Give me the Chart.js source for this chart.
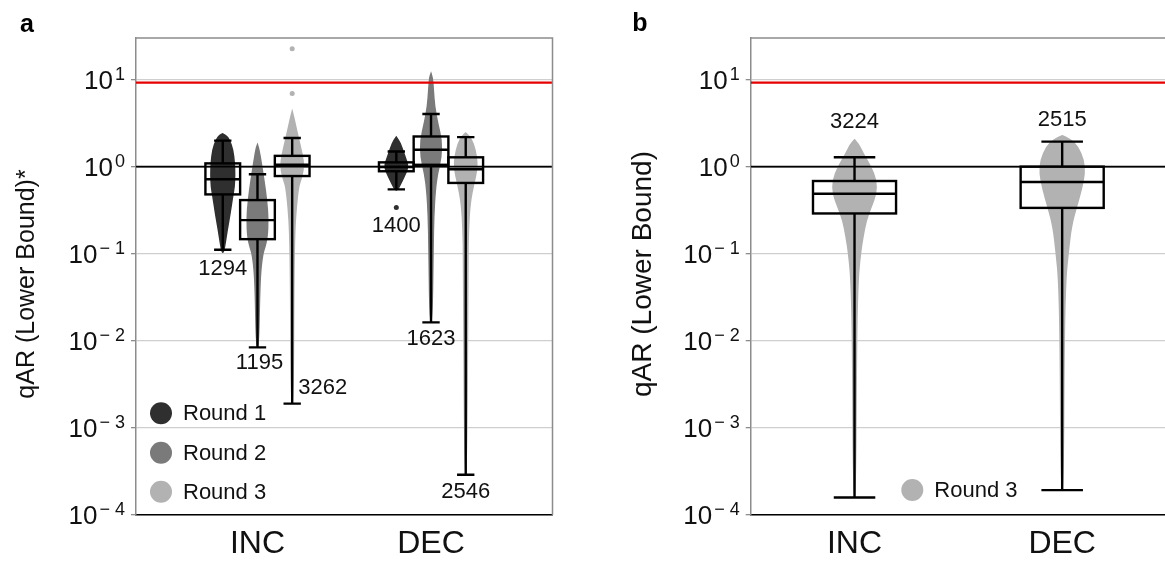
<!DOCTYPE html>
<html>
<head>
<meta charset="utf-8">
<script src="https://cdn.jsdelivr.net/npm/chart.js@4.4.1/dist/chart.umd.min.js"></script>
<style>
  html, body { margin: 0; padding: 0; background: #fff; overflow: hidden; }
  #wrap { position: relative; width: 1165px; height: 562px; }
  canvas { position: absolute; top: 0; }
  #chartA { left: 0; }
  #chartB { left: 600px; }
</style>
</head>
<body>
<div id="wrap">
  <canvas id="chartA" width="600" height="562"></canvas>
  <canvas id="chartB" width="567" height="562"></canvas>
</div>
<script>
// values
const categories = ['INC', 'DEC'];
const roundNames = ['Round 1', 'Round 2', 'Round 3'];
const yTicks = [1e-4, 1e-3, 1e-2, 1e-1, 1, 10];
const thresholdValue = 9.2;
const referenceValue = 1;

// [lower whisker, q1, median, q3, upper whisker] for INC, DEC
const aRound1Stats = [[0.111, 0.48, 0.716, 1.09, 1.99], [0.548, 0.885, 0.99, 1.12, 1.49]];
const aRound2Stats = [[0.0084, 0.147, 0.243, 0.413, 0.817], [0.0163, 1.05, 1.56, 2.22, 4.02]];
const aRound3Stats = [[0.0019, 0.78, 1.05, 1.33, 2.13], [0.00029, 0.65, 0.933, 1.28, 2.18]];
const bRound3Stats = [[0.000159, 0.29, 0.489, 0.684, 1.28], [0.000193, 0.336, 0.666, 1.0, 1.94]];

// sample counts, [INC, DEC] x rounds
const aCounts = [[1294, 1195, 3262], [1400, 1623, 2546]];
const bCounts = [3224, 2515];

// isolated points
const aRound1Outliers = [[], [0.34]];
const aRound2Outliers = [[], []];
const aRound3Outliers = [[22.6, 6.9], []];
const bRound3Outliers = [[], []];

// violin outlines: [value, half width in category units], top to bottom
const aIncR1Violin = [[2.38, 0], [2.3, 0.018], [2.03, 0.038], [1.56, 0.058], [1.1, 0.067], [0.8, 0.069], [0.58, 0.066], [0.45, 0.056], [0.29, 0.042], [0.186, 0.025], [0.13, 0.013], [0.104, 0.004]];
const aIncR2Violin = [[1.78, 0], [1.6, 0.008], [1.09, 0.022], [0.7, 0.037], [0.41, 0.053], [0.25, 0.061], [0.155, 0.056], [0.12, 0.043], [0.1, 0.03], [0.064, 0.018], [0.034, 0.012], [0.0085, 0.006]];
const aIncR3Violin = [[4.3, 0], [3.6, 0.01], [2.65, 0.024], [1.7, 0.047], [1.15, 0.065], [0.9, 0.063], [0.7, 0.049], [0.59, 0.036], [0.345, 0.023], [0.186, 0.014], [0.05, 0.009], [0.0019, 0.006]];
const aDecR1Violin = [[2.18, 0], [2.0, 0.013], [1.78, 0.026], [1.3, 0.05], [1.0, 0.07], [0.77, 0.045], [0.62, 0.022], [0.54, 0.006]];
const aDecR2Violin = [[11.7, 0], [10.5, 0.008], [7.7, 0.013], [4.9, 0.02], [3.17, 0.038], [2.03, 0.06], [1.3, 0.059], [0.84, 0.037], [0.54, 0.024], [0.265, 0.015], [0.12, 0.012], [0.0164, 0.006]];
const aDecR3Violin = [[2.43, 0], [2.25, 0.02], [1.86, 0.043], [1.3, 0.063], [0.92, 0.065], [0.64, 0.046], [0.38, 0.024], [0.186, 0.015], [0.09, 0.012], [0.00029, 0.006]];
const bIncViolin = [[2.03, 0], [1.8, 0.02], [1.43, 0.04], [1.0, 0.078], [0.7, 0.104], [0.49, 0.104], [0.345, 0.08], [0.243, 0.056], [0.155, 0.04], [0.1, 0.028], [0.05, 0.016], [0.01, 0.009], [0.00016, 0.005]];
const bDecViolin = [[2.26, 0], [2.05, 0.04], [1.7, 0.075], [1.19, 0.103], [0.84, 0.108], [0.54, 0.092], [0.345, 0.068], [0.203, 0.043], [0.1, 0.028], [0.05, 0.016], [0.01, 0.009], [0.00019, 0.005]];

// styling
const FONT = "'Liberation Sans', Arial, sans-serif";
const roundColors = ['#2f2f2f', '#7a7a7a', '#b2b2b2'];
const frameColor = '#8c8c8c';

function buildGroups(statsByRound, violinsByRound, outliersByRound, countOf, rounds, offsets, places) {
    const groups = [];
    categories.forEach((c, ci) => {
        rounds.forEach((r, k) => {
            groups.push({
                x: ci + 1 + offsets[k],
                color: roundColors[r],
                stats: statsByRound[k][ci],
                violin: violinsByRound[k][ci],
                outliers: outliersByRound[k][ci],
                count: countOf(ci, k),
                place: places[ci][k]
            });
        });
    });
    return groups;
}

const panelA = {
    id: 'chartA', width: 600,
    xMin: 0.3, xMax: 2.7,
    area: { left: 136, right: 552.5, top: 38, bottom: 515 },
    boxW: 0.2, capW: 0.1,
    groups: buildGroups(
        [aRound1Stats, aRound2Stats, aRound3Stats],
        [[aIncR1Violin, aDecR1Violin], [aIncR2Violin, aDecR2Violin], [aIncR3Violin, aDecR3Violin]],
        [aRound1Outliers, aRound2Outliers, aRound3Outliers],
        (ci, k) => aCounts[ci][k],
        [0, 1, 2], [-0.2, 0, 0.2],
        [[{ at: 'low', dy: 19 }, { at: 'low', dx: 2, dy: 16 }, { at: 'low', dx: 6, dy: -16, align: 'left' }],
         [{ at: 'low', dy: 37 }, { at: 'low', dy: 17 }, { at: 'low', dy: 17 }]]
    ),
    title: 'qAR (Lower Bound)*', titleX: 27, titleY: 284, titleSize: 25,
    letter: 'a', letterX: 27, letterY: 25,
    legendRounds: [0, 1, 2], legendX: 25, legendY: [101.7, 62.3, 23.3]
};

const panelB = {
    id: 'chartB', width: 567,
    xMin: 0.5, xMax: 2.5,
    area: { left: 150.7, right: 566, top: 38, bottom: 515 },
    boxW: 0.4, capW: 0.2,
    groups: buildGroups(
        [bRound3Stats],
        [[bIncViolin, bDecViolin]],
        [bRound3Outliers],
        (ci) => bCounts[ci],
        [2], [0],
        [[{ at: 'high', dy: -35 }], [{ at: 'high', dy: -22 }]]
    ),
    title: 'qAR (Lower Bound)', titleX: 43, titleY: 274, titleSize: 28,
    letter: 'b', letterX: 40, letterY: 24,
    legendRounds: [2], legendX: 161.6, legendY: [25]
};

// smooth closed outline through the violin profile (midpoint quadratic curves)
function drawViolin(ctx, xs, ys, g) {
    const prof = g.violin;
    const pts = [];
    prof.forEach(([v, hw]) => pts.push([xs.getPixelForValue(g.x + hw), ys.getPixelForValue(v)]));
    for (let i = prof.length - 1; i >= 0; i--) {
        const [v, hw] = prof[i];
        pts.push([xs.getPixelForValue(g.x - hw), ys.getPixelForValue(v)]);
    }
    ctx.beginPath();
    ctx.moveTo(pts[0][0], pts[0][1]);
    for (let i = 1; i < pts.length - 1; i++) {
        const mx = (pts[i][0] + pts[i + 1][0]) / 2, my = (pts[i][1] + pts[i + 1][1]) / 2;
        ctx.quadraticCurveTo(pts[i][0], pts[i][1], mx, my);
    }
    ctx.lineTo(pts[pts.length - 1][0], pts[pts.length - 1][1]);
    ctx.closePath();
    ctx.fillStyle = g.color;
    ctx.strokeStyle = g.color;
    ctx.lineWidth = 1.5;
    ctx.fill();
    ctx.stroke();
}

function drawBox(ctx, xs, ys, g, p) {
    const [lo, q1, med, q3, hi] = g.stats.map(v => ys.getPixelForValue(v));
    const xc = xs.getPixelForValue(g.x);
    const xl = xs.getPixelForValue(g.x - p.boxW / 2), xr = xs.getPixelForValue(g.x + p.boxW / 2);
    const cl = xs.getPixelForValue(g.x - p.capW / 2), cr = xs.getPixelForValue(g.x + p.capW / 2);
    ctx.strokeStyle = '#000';
    ctx.lineWidth = 2.4;
    ctx.beginPath();
    ctx.moveTo(xc, q1); ctx.lineTo(xc, lo);
    ctx.moveTo(cl, lo); ctx.lineTo(cr, lo);
    ctx.moveTo(xc, q3); ctx.lineTo(xc, hi);
    ctx.moveTo(cl, hi); ctx.lineTo(cr, hi);
    ctx.stroke();
    ctx.strokeRect(xl, q3, xr - xl, q1 - q3);
    ctx.beginPath();
    ctx.moveTo(xl, med); ctx.lineTo(xr, med);
    ctx.stroke();
}

function drawCount(ctx, xs, ys, g) {
    const pl = g.place;
    const y = ys.getPixelForValue(pl.at === 'low' ? g.stats[0] : g.stats[4]) + pl.dy;
    const x = xs.getPixelForValue(g.x) + (pl.dx || 0);
    ctx.font = '22px ' + FONT;
    ctx.fillStyle = '#111';
    ctx.textAlign = pl.align || 'center';
    ctx.textBaseline = 'middle';
    ctx.fillText(String(g.count), x, y);
}

function drawPowerLabels(ctx, ys, area) {
    const right = area.left - 11;
    ctx.fillStyle = '#111';
    ctx.textBaseline = 'alphabetic';
    yTicks.forEach(v => {
        const py = ys.getPixelForValue(v);
        const e = Math.round(Math.log10(v));
        const sup = e < 0 ? '\u2212 ' + (-e) : String(e);
        ctx.font = '18px ' + FONT;
        ctx.textAlign = 'right';
        ctx.fillText(sup, right, py);
        const sw = ctx.measureText(sup).width;
        ctx.font = '26px ' + FONT;
        ctx.fillText('10', right - sw - 2, py + 9.3);
    });
}

const panelPlugin = {
    id: 'panelDecor',
    beforeDatasetsDraw(chart, args, opts) {
        const p = opts.panel, ctx = chart.ctx;
        const xs = chart.scales.x, ys = chart.scales.y;
        ctx.save();
        ctx.beginPath();
        ctx.rect(chart.chartArea.left, chart.chartArea.top, chart.chartArea.width, chart.chartArea.height);
        ctx.clip();
        p.groups.forEach(g => drawViolin(ctx, xs, ys, g));
        ctx.restore();
    },
    afterDatasetsDraw(chart, args, opts) {
        const p = opts.panel, ctx = chart.ctx;
        const xs = chart.scales.x, ys = chart.scales.y;
        ctx.save();
        p.groups.forEach(g => drawBox(ctx, xs, ys, g, p));
        p.groups.forEach(g => drawCount(ctx, xs, ys, g));
        ctx.restore();
    },
    afterDraw(chart, args, opts) {
        const p = opts.panel, ctx = chart.ctx, a = chart.chartArea;
        const ys = chart.scales.y;
        ctx.save();
        // top and right frame
        ctx.strokeStyle = frameColor;
        ctx.lineWidth = 1.5;
        ctx.beginPath();
        ctx.moveTo(a.left, a.top); ctx.lineTo(a.right, a.top); ctx.lineTo(a.right, a.bottom);
        ctx.stroke();

        drawPowerLabels(ctx, ys, a);

        // axis title
        ctx.save();
        ctx.translate(p.titleX, p.titleY);
        ctx.rotate(-Math.PI / 2);
        ctx.font = p.titleSize + 'px ' + FONT;
        ctx.fillStyle = '#111';
        ctx.textAlign = 'center';
        ctx.textBaseline = 'middle';
        ctx.fillText(p.title, 0, 0);
        ctx.restore();

        // panel letter
        ctx.font = 'bold 25px ' + FONT;
        ctx.fillStyle = '#000';
        ctx.textAlign = 'center';
        ctx.textBaseline = 'middle';
        ctx.fillText(p.letter, p.letterX, p.letterY);

        // legend
        p.legendRounds.forEach((r, i) => {
            const cx = a.left + p.legendX, cy = a.bottom - p.legendY[i];
            ctx.beginPath();
            ctx.arc(cx, cy, 11, 0, Math.PI * 2);
            ctx.fillStyle = roundColors[r];
            ctx.fill();
            ctx.font = '22px ' + FONT;
            ctx.fillStyle = '#111';
            ctx.textAlign = 'left';
            ctx.fillText(roundNames[r], cx + 22, cy + 1);
        });
        ctx.restore();
    }
};

function makePanel(p) {
    const datasets = [
        {
            data: [{ x: p.xMin, y: thresholdValue }, { x: p.xMax, y: thresholdValue }],
            showLine: true, borderColor: '#e60000', borderWidth: 2.2, pointRadius: 0
        },
        {
            data: [{ x: p.xMin, y: referenceValue }, { x: p.xMax, y: referenceValue }],
            showLine: true, borderColor: '#000', borderWidth: 1.6, pointRadius: 0
        }
    ];
    p.groups.forEach(g => {
        if (g.outliers.length) {
            datasets.push({
                data: g.outliers.map(v => ({ x: g.x, y: v })),
                pointRadius: 2.5, backgroundColor: g.color, borderWidth: 0
            });
        }
    });

    return new Chart(document.getElementById(p.id), {
        type: 'scatter',
        data: { datasets },
        plugins: [panelPlugin],
        options: {
            responsive: false,
            animation: false,
            events: [],
            layout: { padding: { left: 0, top: p.area.top, right: p.width - p.area.right, bottom: 0 } },
            plugins: {
                legend: { display: false },
                tooltip: { enabled: false },
                panelDecor: { panel: p }
            },
            scales: {
                x: {
                    type: 'linear',
                    min: p.xMin, max: p.xMax,
                    afterBuildTicks: s => { s.ticks = categories.map((c, i) => ({ value: i + 1 })); },
                    afterFit: s => { s.height = 562 - p.area.bottom; },
                    ticks: {
                        callback: v => categories[v - 1],
                        font: { family: FONT, size: 32 },
                        color: '#111',
                        padding: 10,
                        maxRotation: 0
                    },
                    grid: { display: false, drawTicks: false },
                    border: { color: '#000', width: 1.5 }
                },
                y: {
                    type: 'logarithmic',
                    min: 1e-4, max: 30,
                    afterBuildTicks: s => { s.ticks = yTicks.map(v => ({ value: v })); },
                    afterFit: s => { s.width = p.area.left; },
                    ticks: { display: false },
                    grid: {
                        color: c => (c.tick && c.tick.value === 1 ? '#000' : '#cfcfcf'),
                        lineWidth: 1.3,
                        drawTicks: true,
                        tickLength: 5,
                        tickColor: frameColor
                    },
                    border: { color: frameColor, width: 1.5 }
                }
            }
        }
    });
}

makePanel(panelA);
makePanel(panelB);
</script>
</body>
</html>
